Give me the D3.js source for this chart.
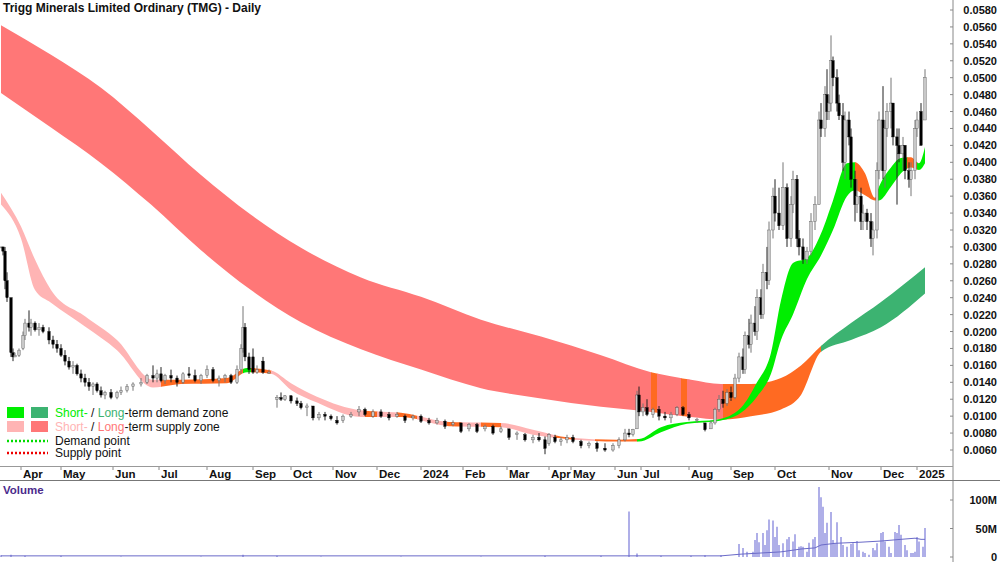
<!DOCTYPE html>
<html><head><meta charset="utf-8">
<script src="https://cdn.jsdelivr.net/npm/d3@7"></script>
<style>body{margin:0;background:#fff}svg{display:block;font-family:Arial,"Liberation Sans",sans-serif}</style>
</head><body><svg id="c" width="1000" height="562"></svg>
<script>
const title = "Trigg Minerals Limited Ordinary (TMG) - Daily";
const monthLabels = ["Apr","May","Jun","Jul","Aug","Sep","Oct","Nov","Dec","2024","Feb","Mar","Apr","May","Jun","Jul","Aug","Sep","Oct","Nov","Dec","2025"];
const monthDays   = [10,30,56,79,103,126,145,166,188,210,231,253,274,285,307,320,344,365,387,414,440,458];
const priceTicks = [0.058,0.056,0.054,0.052,0.050,0.048,0.046,0.044,0.042,0.040,0.038,0.036,0.034,0.032,0.030,0.028,0.026,0.024,0.022,0.020,0.018,0.016,0.014,0.012,0.010,0.008,0.006];
const volTicks = [0,50,100];
// [day, open, high, low, close]
const candles = [[0,.0300,.0300,.0300,.0300],[1,.0300,.0300,.0290,.0295],[2,.0295,.0300,.0250,.0260],[3,.0260,.0270,.0235,.0240],[5,.0240,.0240,.0170,.0175],[6,.0175,.0180,.0165,.0170],[7,.0170,.0175,.0170,.0172],[9,.0172,.0180,.0170,.0178],
[11,.0180,.0200,.0178,.0195],[12,.0195,.0215,.0190,.0210],[14,.0210,.0225,.0200,.0205],[15,.0205,.0215,.0195,.0210],[17,.0210,.0212,.0200,.0202],[19,.0202,.0210,.0195,.0205],[21,.0205,.0208,.0198,.0200],[24,.0200,.0205,.0185,.0190],[26,.0190,.0195,.0180,.0185],[28,.0185,.0190,.0175,.0180],[30,.0180,.0185,.0170,.0172],[32,.0172,.0178,.0160,.0165],[34,.0165,.0170,.0155,.0158],
[36,.0158,.0165,.0150,.0160],[38,.0160,.0162,.0148,.0150],[40,.0150,.0155,.0140,.0145],[42,.0145,.0150,.0135,.0140],[44,.0140,.0145,.0130,.0135],[46,.0135,.0140,.0125,.0138],[48,.0138,.0140,.0128,.0130],[50,.0130,.0135,.0122,.0125],[52,.0125,.0130,.0120,.0128],[55,.0128,.0132,.0120,.0122],[58,.0122,.0130,.0120,.0128],[60,.0128,.0135,.0125,.0130],
[63,.0130,.0138,.0128,.0135],[66,.0135,.0140,.0130,.0138],[70,.0138,.0145,.0135,.0140],[73,.0140,.0150,.0138,.0148],[76,.0148,.0160,.0140,.0145],[78,.0145,.0155,.0140,.0150],
[80,.0150,.0158,.0140,.0142],[82,.0142,.0150,.0138,.0148],[85,.0148,.0155,.0140,.0145],[88,.0145,.0148,.0135,.0140],[91,.0140,.0152,.0138,.0150],[94,.0150,.0158,.0145,.0148],[97,.0148,.0155,.0140,.0142],[100,.0142,.0150,.0138,.0148],[103,.0148,.0160,.0145,.0155],[106,.0155,.0158,.0140,.0142],[109,.0142,.0148,.0135,.0145],[112,.0145,.0150,.0140,.0148],[115,.0148,.0150,.0138,.0140],[118,.0140,.0160,.0138,.0155],
[120,.0155,.0185,.0150,.0180],[121,.0180,.0230,.0175,.0205],[122,.0205,.0210,.0165,.0170],[124,.0170,.0175,.0150,.0155],[126,.0170,.0180,.0150,.0152],[128,.0152,.0160,.0150,.0155],[131,.0165,.0170,.0150,.0152],[134,.0152,.0155,.0150,.0152],
[138,.0120,.0125,.0110,.0122],[140,.0122,.0128,.0118,.0120],[142,.0120,.0125,.0118,.0124],[145,.0124,.0125,.0115,.0118],[148,.0118,.0122,.0112,.0115],[150,.0115,.0118,.0108,.0110],[153,.0110,.0115,.0100,.0112],[156,.0112,.0112,.0095,.0098],[159,.0098,.0105,.0095,.0102],[162,.0102,.0105,.0095,.0100],[165,.0100,.0102,.0095,.0097],[168,.0095,.0100,.0090,.0092],[171,.0095,.0102,.0092,.0100],[175,.0100,.0105,.0098,.0102],[179,.0105,.0112,.0100,.0108],[182,.0108,.0110,.0100,.0102],[186,.0100,.0108,.0098,.0105],[190,.0105,.0108,.0098,.0100],[194,.0102,.0105,.0095,.0098],[198,.0100,.0105,.0098,.0102],[202,.0100,.0102,.0092,.0095],[206,.0098,.0102,.0095,.0100],[210,.0100,.0102,.0092,.0094],[214,.0095,.0098,.0090,.0092],[218,.0092,.0098,.0090,.0095],[222,.0094,.0096,.0085,.0088],[226,.0090,.0095,.0088,.0092],[230,.0092,.0092,.0080,.0082],[234,.0085,.0092,.0082,.0090],[238,.0090,.0092,.0080,.0082],[242,.0085,.0090,.0082,.0088],[246,.0088,.0090,.0078,.0080],[250,.0082,.0088,.0080,.0085],[254,.0085,.0085,.0072,.0075],[258,.0078,.0082,.0072,.0080],[262,.0078,.0080,.0070,.0072],[266,.0072,.0078,.0068,.0075],[269,.0075,.0080,.0070,.0072],[272,.0072,.0076,.0055,.0062],[274,.0068,.0080,.0065,.0078],[277,.0075,.0078,.0068,.0070],[280,.0070,.0075,.0065,.0072],[283,.0072,.0078,.0068,.0075],[286,.0075,.0078,.0068,.0070],[290,.0070,.0072,.0062,.0065],[294,.0065,.0070,.0062,.0068],[298,.0068,.0070,.0058,.0062],[302,.0062,.0068,.0058,.0060],[306,.0060,.0068,.0058,.0065],[309,.0065,.0075,.0062,.0072],[312,.0072,.0085,.0070,.0080],[314,.0080,.0085,.0075,.0078],[316,.0078,.0085,.0076,.0084],
[318,.0085,.0130,.0085,.0125],[319,.0125,.0135,.0100,.0105],[321,.0105,.0115,.0100,.0110],[323,.0110,.0120,.0100,.0102],[326,.0102,.0110,.0098,.0108],[329,.0108,.0112,.0095,.0100],[332,.0100,.0105,.0095,.0098],[335,.0098,.0105,.0092,.0102],[338,.0102,.0112,.0100,.0110],[341,.0110,.0112,.0100,.0102],[344,.0102,.0105,.0095,.0098],[348,.0095,.0098,.0092,.0096],[352,.0092,.0092,.0082,.0084],[355,.0085,.0095,.0085,.0092],[357,.0092,.0110,.0090,.0108],[359,.0108,.0125,.0105,.0120],[361,.0120,.0130,.0110,.0115],[363,.0115,.0132,.0112,.0128],[365,.0128,.0135,.0118,.0122],[367,.0122,.0150,.0120,.0145],[369,.0145,.0175,.0140,.0170],[371,.0170,.0180,.0150,.0155],[372,.0155,.0200,.0150,.0195],[374,.0195,.0215,.0180,.0185],[375,.0185,.0220,.0175,.0210],[377,.0210,.0230,.0195,.0200],[378,.0200,.0250,.0190,.0240],[380,.0240,.0250,.0215,.0220],[381,.0220,.0280,.0215,.0270],[383,.0270,.0300,.0250,.0260],[384,.0260,.0330,.0255,.0320],[386,.0320,.0370,.0310,.0360],[387,.0360,.0380,.0330,.0340],
[389,.0340,.0370,.0320,.0325],[391,.0325,.0400,.0320,.0370],[393,.0370,.0375,.0300,.0310],[395,.0310,.0360,.0300,.0350],[396,.0350,.0390,.0340,.0380],[398,.0380,.0385,.0300,.0310],[399,.0310,.0320,.0290,.0300],[401,.0300,.0310,.0280,.0285],[403,.0285,.0300,.0280,.0295],[405,.0295,.0340,.0290,.0330],[407,.0330,.0360,.0320,.0350],[409,.0350,.0460,.0350,.0450],[410,.0450,.0470,.0430,.0440],[412,.0440,.0490,.0430,.0480],[413,.0480,.0510,.0450,.0460],[414,.0460,.0480,.0450,.0470],[415,.0470,.0550,.0460,.0520],[416,.0520,.0525,.0490,.0500],[418,.0500,.0510,.0460,.0470],[419,.0470,.0480,.0450,.0455],[421,.0455,.0470,.0390,.0400],[422,.0400,.0460,.0380,.0450],[424,.0450,.0460,.0420,.0430],[425,.0430,.0440,.0370,.0380],[427,.0380,.0390,.0330,.0350],[428,.0350,.0380,.0340,.0360],[430,.0360,.0370,.0320,.0330],[431,.0330,.0350,.0320,.0340],[433,.0340,.0345,.0320,.0330],[435,.0330,.0340,.0300,.0310],[436,.0310,.0330,.0290,.0320],[438,.0320,.0400,.0310,.0390],[439,.0390,.0460,.0380,.0450],[441,.0450,.0490,.0380,.0390],[442,.0390,.0450,.0370,.0440],[443,.0440,.0470,.0430,.0460],[445,.0460,.0500,.0440,.0470],[446,.0470,.0470,.0420,.0430],[448,.0430,.0440,.0350,.0420],[449,.0420,.0440,.0400,.0410],[451,.0410,.0430,.0390,.0420],[452,.0420,.0420,.0380,.0390],[454,.0390,.0400,.0370,.0380],[455,.0380,.0400,.0360,.0390],[457,.0390,.0450,.0380,.0440],[458,.0440,.0460,.0430,.0450],[460,.0460,.0470,.0420,.0420],[462,.0450,.0510,.0450,.0500]];
// [day, upper, lower]
const shortBand = [[0,.0364,.0350],[10,.0324,.0310],[17,.0285,.0249],[25,.0249,.0234],[42,.0218,.0206],[58,.0190,.0178],[76,.0143,.0134],[90,.0143,.0138],[113,.0145,.0139],[123,.0157,.0152],[135,.0154,.0150],[145,.0139,.0131],[158,.0123,.0116],[180,.0107,.0099],[200,.0104,.0099],[225,.0093,.0088],[250,.0092,.0087],[266,.0084,.0078],[283,.0075,.0073],[308,.0072,.0070],[319,.0073,.0070],[330,.0087,.0081],[343,.0093,.0091],[358,.0096,.0094],[370,.0110,.0104],[378,.0140,.0123],[385,.0175,.0150],[390,.0237,.0190],[396,.0281,.0220],[403,.0287,.0262],[410,.0316,.0290],[416,.0355,.0320],[423,.0399,.0360],[427,.0400,.0367],[432,.0387,.0361],[437,.0358,.0355],[439,.0371,.0355],[445,.0394,.0371],[450,.0405,.0387],[455,.0406,.0394],[459,.0399,.0391],[462,.0418,.0399]];
const longBand = [[0,.0562,.0482],[25,.0527,.0441],[50,.0488,.0399],[75,.0438,.0350],[100,.0385,.0296],[125,.0338,.0249],[150,.0299,.0211],[180,.0264,.0179],[210,.0241,.0155],[240,.0214,.0133],[270,.0194,.0121],[300,.0172,.0111],[325,.0152,.0105],[345,.0143,.0099],[360,.0138,.0096],[375,.0138,.0100],[390,.0145,.0108],[400,.0160,.0125],[410,.0183,.0176],[425,.0210,.0190],[440,.0235,.0205],[462,.0276,.0245]];
// [fromDay, toDay, zone]
const shortZones = [[0,80,"ss"],[80,121,"sd"],[121,125,"sg"],[125,135,"sd"],[135,182,"ss"],[182,188,"sd"],[188,198,"ss"],[198,208,"sd"],[208,223,"ss"],[223,230,"sd"],[230,240,"ss"],[240,250,"sd"],[250,277,"ss"],[277,287,"sd"],[287,297,"ss"],[297,318,"sd"],[318,427,"sg"],[427,438,"sd"],[438,453,"sg"],[453,458,"sd"],[458,463,"sg"]];
const longZones = [[0,325,"ls"],[325,328,"sd"],[328,340,"ls"],[340,343,"sd"],[343,361,"ls"],[361,410,"sd"],[410,463,"lg"]];
// volume [day, millions]
const volumes = [[0,3],[5,4],[12,2],[30,2],[60,1],[100,1],[121,4],[138,2],[160,1],[200,1],[240,1],[272,2],[300,2],[314,80],[318,6],[330,2],[345,2],[352,3],[360,3],[369,23],[371,16],[373,9],[376,9],[377,30],[378,42],[379,26],[381,42],[382,21],[383,47],[384,66],[386,64],[387,35],[388,53],[389,21],[391,24],[393,31],[394,35],[396,27],[397,40],[399,18],[400,19],[401,18],[403,9],[404,25],[406,31],[407,35],[409,123],[410,105],[411,88],[412,42],[413,60],[415,79],[416,30],[417,24],[418,61],[420,35],[421,21],[423,18],[425,23],[426,24],[428,28],[429,12],[431,9],[432,7],[434,4],[436,16],[437,12],[438,24],[440,42],[441,44],[442,27],[444,18],[445,7],[447,44],[448,42],[449,56],[450,39],[452,21],[453,12],[455,7],[456,7],[457,9],[458,35],[459,27],[461,18],[462,51]];
const volMA = [[0,2],[360,2],[370,5],[380,7],[390,9],[400,14],[407,16],[410,21],[417,24],[430,26],[440,28],[450,31],[457,33],[460,31],[462,31]];

const svg = d3.select("#c");
const W=1000, axisX=953;
const x = d3.scaleLinear().domain([0,463]).range([1,927]);
const y = d3.scaleLinear().domain([0.006,0.058]).range([450,10]);
const yv = d3.scaleLinear().domain([0,100]).range([557,500]);
const colors = {ss:"#ffb4b4", ls:"#ff7777", sd:"#ff6a22", sg:"#00ee00", lg:"#3cb371"};

const defs = svg.append("defs");
defs.append("clipPath").attr("id","pc").append("rect").attr("x",0).attr("y",0).attr("width",axisX).attr("height",466);

const plot = svg.append("g").attr("clip-path","url(#pc)");
const area = d3.area().x(d=>x(d[0])).y0(d=>y(d[2])).y1(d=>y(d[1])).curve(d3.curveMonotoneX);
function drawBand(data, zones, id){
  zones.forEach((z,i)=>{
    const cid = id+i;
    defs.append("clipPath").attr("id",cid).append("rect")
      .attr("x",x(z[0])).attr("y",0).attr("width",x(z[1])-x(z[0])+0.5).attr("height",466);
    plot.append("g").attr("clip-path",`url(#${cid})`).append("path")
      .attr("d",area(data)).attr("fill",colors[z[2]]);
  });
}
drawBand(longBand,longZones,"lz");
drawBand(shortBand,shortZones,"sz");

// candles
const cw = 2.4;
const cg = plot.append("g");
candles.forEach(c=>{
  const [d,o,h,l,cl]=c, up = cl>=o;
  cg.append("line").attr("x1",x(d)).attr("x2",x(d)).attr("y1",y(h)).attr("y2",y(l))
    .attr("stroke",up?"#777":"#222").attr("stroke-width",1);
  const top=y(Math.max(o,cl)), bot=y(Math.min(o,cl));
  cg.append("rect").attr("x",x(d)-cw/2).attr("y",top).attr("width",cw).attr("height",Math.max(1,bot-top))
    .attr("fill",up?"#c8c8c8":"#000").attr("stroke",up?"#555":"#000").attr("stroke-width",0.4);
});

// title
svg.append("text").attr("x",3).attr("y",12).attr("font-size",12).attr("font-weight","bold").attr("fill","#111").text(title);

// right axis
svg.append("line").attr("x1",axisX).attr("x2",axisX).attr("y1",0).attr("y2",562).attr("stroke","#888");
priceTicks.forEach(t=>{
  svg.append("line").attr("x1",axisX-3).attr("x2",axisX).attr("y1",y(t)).attr("y2",y(t)).attr("stroke","#888");
  svg.append("text").attr("x",997).attr("y",y(t)+4).attr("text-anchor","end").attr("font-size",11).attr("font-weight","bold").attr("fill","#111").text(t.toFixed(4));
});
volTicks.forEach(t=>{
  svg.append("line").attr("x1",axisX-3).attr("x2",axisX).attr("y1",yv(t)).attr("y2",yv(t)).attr("stroke","#888");
  svg.append("text").attr("x",997).attr("y",yv(t)+4).attr("text-anchor","end").attr("font-size",11).attr("font-weight","bold").attr("fill","#111").text(t===0?"0":t+"M");
});

// x axis band
svg.append("line").attr("x1",0).attr("x2",axisX).attr("y1",466.5).attr("y2",466.5).attr("stroke","#999");
svg.append("line").attr("x1",0).attr("x2",W).attr("y1",480.5).attr("y2",480.5).attr("stroke","#777");
monthDays.forEach((d,i)=>{
  svg.append("line").attr("x1",x(d)).attr("x2",x(d)).attr("y1",467).attr("y2",470).attr("stroke","#888");
  svg.append("text").attr("x",x(d)+2).attr("y",478).attr("font-size",11.5).attr("font-weight","bold").attr("fill","#111").text(monthLabels[i]);
});

// volume
svg.append("text").attr("x",3).attr("y",494).attr("font-size",11.5).attr("font-weight","bold").attr("fill","#4b2a8c").text("Volume");
const vg = svg.append("g");
volumes.forEach(v=>{
  vg.append("line").attr("x1",x(v[0])).attr("x2",x(v[0])).attr("y1",yv(0)).attr("y2",yv(v[1])).attr("stroke","#8484dc").attr("stroke-width",1.3);
});
vg.append("path").attr("d",d3.line().x(d=>x(d[0])).y(d=>yv(d[1]))(volMA)).attr("fill","none").attr("stroke","#6a6ac8").attr("stroke-width",1);

// legend
const lg = svg.append("g").attr("font-size",12).attr("fill","#111");
const row = (yy, c1, c2, t1, t2, rest)=>{
  lg.append("rect").attr("x",7).attr("y",yy-6).attr("width",17).attr("height",11).attr("fill",c1);
  lg.append("rect").attr("x",31).attr("y",yy-6).attr("width",17).attr("height",11).attr("fill",c2);
  const t = lg.append("text").attr("x",55).attr("y",yy+4);
  t.append("tspan").attr("fill",c1).text(t1);
  t.append("tspan").attr("fill","#111").text(" / ");
  t.append("tspan").attr("fill",c2).text(t2);
  t.append("tspan").attr("fill","#111").text(rest);
};
row(413,colors.sg,colors.lg,"Short-","Long","-term demand zone");
row(427,colors.ss,colors.ls,"Short-","Long","-term supply zone");
lg.append("line").attr("x1",7).attr("x2",48).attr("y1",441).attr("y2",441).attr("stroke","#00dd00").attr("stroke-width",2.5).attr("stroke-dasharray","2,2");
lg.append("text").attr("x",55).attr("y",445).text("Demand point");
lg.append("line").attr("x1",7).attr("x2",48).attr("y1",453).attr("y2",453).attr("stroke","#ee0000").attr("stroke-width",2.5).attr("stroke-dasharray","2,2");
lg.append("text").attr("x",55).attr("y",457).text("Supply point");
</script></body></html>
